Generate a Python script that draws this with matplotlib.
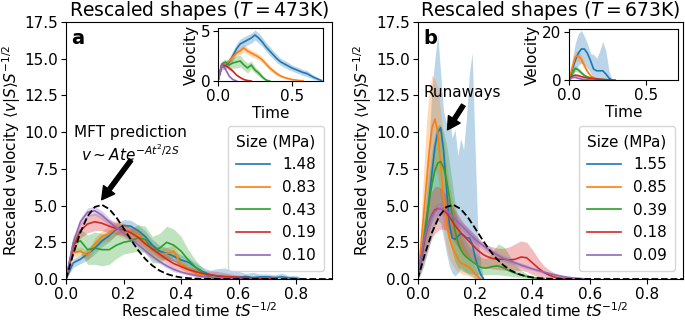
import matplotlib.pyplot as plt
import numpy as np

colors = ['tab:blue', 'tab:orange', 'tab:green', 'tab:red', 'tab:purple']
sizes_473 = ['1.48', '0.83', '0.43', '0.19', '0.10']
sizes_673 = ['1.55', '0.85', '0.39', '0.18', '0.09']

# panel a, main axes (T = 473K)
a_t = [0.0, 0.025, 0.05, 0.075, 0.1, 0.125, 0.15, 0.175, 0.2, 0.225, 0.25, 0.275, 0.3, 0.325, 0.35,
       0.375, 0.4, 0.425, 0.45, 0.475, 0.5, 0.525, 0.55, 0.575, 0.6, 0.625, 0.65, 0.675, 0.7, 0.725,
       0.75, 0.775, 0.8, 0.825]
a_v = [
    [0, 1.1, 1.35, 1.7, 2.1, 2.6, 2.95, 3.4, 3.65, 3.6, 3.3, 2.9, 2.3, 1.9, 1.75, 1.55, 1.3, 1.15, 0.8,
     0.5, 0.3, 0.2, 0.15, 0.12, 0.12, 0.18, 0.1, 0.15, 0.15, 0.1, 0.15, 0.08, 0.05, 0],
    [0, 1.8, 1.9, 1.6, 2.4, 2.9, 3.1, 3.5, 3.3, 3.1, 3.0, 2.6, 2.0, 1.7, 1.75, 1.9, 1.0, 0.7, 0.4, 0.25,
     0.12, 0.06, 0.03, 0],
    [0, 2.4, 2.6, 2.0, 2.1, 2.0, 2.0, 2.3, 2.5, 2.6, 2.8, 2.7, 2.0, 2.1, 2.5, 2.3, 1.9, 1.3, 0.8, 0.45,
     0.15, 0.03, 0],
    [0, 2.2, 3.3, 3.75, 3.9, 3.8, 3.6, 3.45, 3.35, 3.15, 2.85, 2.4, 2.05, 1.7, 1.35, 1.05, 0.85, 0.65,
     0.5, 0.38, 0.3, 0.22, 0.18, 0.15, 0.12, 0.1, 0.07, 0.05, 0.03, 0],
    [0, 2.5, 3.9, 4.55, 4.65, 4.35, 3.9, 3.5, 3.15, 2.75, 2.35, 1.95, 1.55, 1.2, 0.9, 0.65, 0.48, 0.35,
     0.25, 0.17, 0.12, 0.08, 0.05, 0.03, 0.01, 0],
]
a_err = [
    [0, 0.3, 0.3, 0.4, 0.4, 0.4, 0.4, 0.4, 0.4, 0.4, 0.4, 0.4, 0.4, 0.4, 0.4, 0.35, 0.35, 0.3, 0.3, 0.3,
     0.3, 0.5, 0.6, 0.5, 0.4, 0.2, 0.35, 0.2, 0.2, 0.2, 0.25, 0.15, 0.2, 0],
    [0, 0.3, 0.3, 0.3, 0.4, 0.4, 0.5, 0.5, 0.5, 0.5, 0.5, 0.45, 0.45, 0.4, 0.4, 0.4, 0.35, 0.3, 0.2,
     0.15, 0.1, 0.05, 0.03, 0],
    [0, 0.6, 0.8, 1.0, 1.1, 1.1, 1.0, 0.9, 0.8, 0.8, 0.9, 0.9, 0.9, 1.0, 1.1, 1.1, 1.0, 0.7, 0.5, 0.3,
     0.1, 0.03, 0],
    [0, 0.4, 0.5, 0.6, 0.6, 0.5, 0.45, 0.4, 0.4, 0.4, 0.35, 0.3, 0.3, 0.3, 0.3, 0.3, 0.25, 0.2, 0.2,
     0.2, 0.25, 0.3, 0.25, 0.2, 0.15, 0.1, 0.08, 0.05, 0.03, 0],
    [0, 0.2, 0.25, 0.3, 0.3, 0.3, 0.25, 0.2, 0.2, 0.2, 0.2, 0.2, 0.2, 0.15, 0.15, 0.15, 0.1, 0.1, 0.1,
     0.08, 0.06, 0.05, 0.03, 0.02, 0.01, 0],
]

# panel a, inset (raw shapes)
ai_t = [0.0, 0.025, 0.05, 0.075, 0.1, 0.125, 0.15, 0.175, 0.2, 0.225, 0.25, 0.275, 0.3, 0.325, 0.35,
        0.375, 0.4, 0.425, 0.45, 0.475, 0.5, 0.525, 0.55, 0.575, 0.6, 0.625, 0.65, 0.675, 0.7]
ai_v = [
    [0, 1.4, 1.5, 1.9, 2.5, 3.2, 3.7, 3.9, 4.1, 4.3, 4.6, 4.3, 3.9, 3.4, 3.0, 2.6, 2.2, 1.9, 1.7, 1.5,
     1.3, 1.15, 1.0, 0.85, 0.75, 0.55, 0.35, 0.2, 0.05],
    [0, 1.5, 1.7, 2.0, 2.4, 2.8, 3.0, 3.3, 3.0, 2.8, 2.6, 2.4, 2.1, 1.7, 1.3, 1.0, 0.7, 0.5, 0.35, 0.25,
     0.15, 0.1, 0.05, 0],
    [0, 1.7, 1.9, 1.6, 1.8, 1.9, 2.0, 1.6, 1.3, 1.6, 1.1, 0.8, 0.4, 0.1, 0],
    [0, 1.6, 1.55, 1.3, 1.0, 0.6, 0.35, 0.15, 0.05, 0],
    [0, 1.6, 1.2, 0.5, 0.15, 0],
]
ai_err = [
    [0, 0.3, 0.3, 0.4, 0.5, 0.5, 0.5, 0.5, 0.5, 0.5, 0.5, 0.5, 0.45, 0.45, 0.45, 0.4, 0.4, 0.35, 0.35,
     0.35, 0.3, 0.3, 0.3, 0.3, 0.3, 0.25, 0.2, 0.15, 0.05],
    [0, 0.2, 0.25, 0.3, 0.3, 0.3, 0.35, 0.35, 0.35, 0.3, 0.3, 0.3, 0.3, 0.25, 0.25, 0.2, 0.2, 0.15, 0.1,
     0.1, 0.08, 0.05, 0.03, 0],
    [0, 0.3, 0.3, 0.4, 0.5, 0.6, 0.6, 0.5, 0.5, 0.4, 0.3, 0.3, 0.2, 0.1, 0],
    [0, 0.2, 0.2, 0.2, 0.15, 0.1, 0.1, 0.05, 0.02, 0],
    [0, 0.15, 0.15, 0.1, 0.05, 0],
]

# panel b, main axes (T = 673K)
b_t = [0.0, 0.01, 0.02, 0.03, 0.04, 0.05, 0.06, 0.07, 0.08, 0.09, 0.1, 0.11, 0.12, 0.13, 0.14, 0.15,
       0.16, 0.17, 0.18, 0.19, 0.2, 0.21, 0.22, 0.23, 0.24, 0.26, 0.28, 0.3, 0.32, 0.34, 0.36, 0.38,
       0.4, 0.42, 0.44, 0.46, 0.48, 0.5, 0.52, 0.54, 0.56, 0.58, 0.6]
b_v = [
    [0, 1.0, 2.2, 3.8, 5.5, 7.3, 9.0, 10.0, 10.3, 8.8, 6.3, 3.8, 2.8, 2.7, 2.9, 3.1, 3.0, 2.8, 2.8, 2.4,
     1.5, 0.8, 0.3, 0],
    [0, 2.0, 4.2, 6.5, 8.7, 10.3, 10.9, 10.0, 7.8, 5.5, 3.8, 2.8, 2.2, 1.8, 1.4, 1.1, 1.0, 0.9, 0.8,
     0.6, 0.35, 0.15, 0],
    [0, 1.2, 2.5, 3.9, 5.3, 6.5, 7.4, 7.9, 8.0, 7.6, 6.8, 5.6, 4.4, 3.3, 2.5, 2.0, 1.7, 1.5, 1.35, 1.2,
     1.05, 0.9, 0.8, 0.75, 0.75, 0.85, 0.9, 0.75, 0.55, 0.4, 0.28, 0.18, 0.1, 0.04, 0],
    [0, 1.2, 2.3, 3.2, 3.9, 4.4, 4.7, 4.8, 4.8, 4.7, 4.5, 4.25, 3.95, 3.65, 3.4, 3.15, 2.95, 2.75, 2.55,
     2.35, 2.15, 1.95, 1.8, 1.65, 1.55, 1.4, 1.35, 1.35, 1.3, 1.35, 1.5, 1.45, 1.1, 0.75, 0.45, 0.25,
     0.12, 0.05, 0.02, 0],
    [0, 1.3, 2.5, 3.3, 3.9, 4.3, 4.6, 4.75, 4.8, 4.75, 4.65, 4.5, 4.3, 4.1, 3.9, 3.7, 3.5, 3.3, 3.1, 2.9,
     2.7, 2.55, 2.4, 2.25, 2.1, 1.85, 1.6, 1.4, 1.25, 1.1, 0.95, 0.82, 0.7, 0.58, 0.47, 0.37, 0.28, 0.2,
     0.13, 0.08, 0.05, 0.02, 0],
]
b_lo = [
    [0, 0.3, 0.8, 1.5, 2.2, 3.0, 3.6, 4.0, 3.8, 2.8, 1.8, 0.9, 0.4, 0.2, 0.4, 0.8, 0.6, 0.4, 0.3, 0.2,
     0, 0, 0, 0],
    [0, 0.8, 2.0, 3.5, 5.0, 6.5, 7.5, 7.0, 5.5, 3.5, 2.2, 1.4, 1.0, 0.7, 0.5, 0.4, 0.3, 0.3, 0.2, 0.1,
     0, 0, 0],
    [0, 0.6, 1.4, 2.3, 3.2, 4.0, 4.6, 5.0, 5.0, 4.5, 3.8, 2.8, 1.9, 1.2, 0.8, 0.6, 0.5, 0.45, 0.4, 0.35,
     0.3, 0.3, 0.3, 0.3, 0.3, 0.3, 0.3, 0.25, 0.2, 0.15, 0.1, 0.05, 0, 0, 0],
    [0, 0.4, 1.0, 1.7, 2.3, 2.8, 3.1, 3.3, 3.4, 3.4, 3.3, 3.1, 2.8, 2.5, 2.2, 2.0, 1.8, 1.6, 1.45, 1.3,
     1.15, 1.0, 0.9, 0.8, 0.75, 0.7, 0.65, 0.6, 0.6, 0.6, 0.6, 0.5, 0.3, 0.15, 0.05, 0, 0, 0, 0, 0],
    [0, 1.0, 2.15, 2.9, 3.5, 3.9, 4.2, 4.35, 4.4, 4.35, 4.25, 4.15, 3.95, 3.75, 3.6, 3.4, 3.2, 3.0, 2.8,
     2.6, 2.4, 2.3, 2.15, 2.0, 1.85, 1.65, 1.4, 1.2, 1.05, 0.95, 0.8, 0.67, 0.6, 0.48, 0.37, 0.29, 0.22,
     0.15, 0.09, 0.05, 0.03, 0.01, 0],
]
b_hi = [
    [0, 2.0, 4.0, 7.0, 9.5, 13.0, 15.0, 16.7, 14.0, 11.5, 10.6, 11.2, 9.6, 10.2, 8.4, 9.6, 8.8, 11.0,
     14.0, 15.4, 9.0, 3.0, 1.0, 0],
    [0, 3.5, 7.0, 10.5, 12.8, 13.9, 13.6, 13.0, 11.5, 9.5, 7.8, 6.5, 5.5, 4.5, 3.6, 2.9, 2.4, 2.0, 1.6,
     1.2, 0.8, 0.4, 0],
    [0, 1.8, 3.6, 5.5, 7.3, 8.8, 9.9, 10.5, 10.5, 10.0, 9.2, 8.0, 6.6, 5.2, 4.0, 3.3, 2.8, 2.5, 2.2,
     2.0, 1.8, 1.6, 1.5, 1.4, 1.4, 1.8, 2.4, 2.2, 1.6, 1.0, 0.6, 0.35, 0.2, 0.08, 0],
    [0, 2.0, 3.6, 4.7, 5.5, 6.0, 6.3, 6.3, 6.2, 6.0, 5.7, 5.4, 5.0, 4.7, 4.4, 4.1, 3.8, 3.6, 3.4, 3.2,
     3.0, 2.8, 2.6, 2.5, 2.3, 2.2, 2.1, 2.1, 2.2, 2.4, 2.6, 2.5, 2.0, 1.4, 0.9, 0.6, 0.4, 0.25, 0.12, 0],
    [0, 1.6, 2.85, 3.7, 4.3, 4.7, 5.0, 5.15, 5.2, 5.15, 5.05, 4.85, 4.65, 4.45, 4.2, 4.0, 3.8, 3.6, 3.4,
     3.2, 3.0, 2.8, 2.65, 2.5, 2.35, 2.05, 1.8, 1.6, 1.45, 1.25, 1.1, 0.97, 0.8, 0.68, 0.57, 0.45, 0.34,
     0.25, 0.17, 0.11, 0.07, 0.03, 0],
]

# panel b, inset
bi_t = [0.0, 0.02, 0.04, 0.06, 0.08, 0.1, 0.12, 0.14, 0.16, 0.18, 0.2, 0.22, 0.24, 0.26, 0.28, 0.3]
bi_v = [
    [0, 4, 8, 11, 12.8, 12.8, 11, 8, 4.5, 3.8, 3.8, 3.8, 2.5, 0.8, 0],
    [0, 5, 9.5, 10, 8.5, 6, 3.5, 1.8, 1.0, 0.6, 0.3, 0.1, 0],
    [0, 2.5, 4.8, 4.2, 3.0, 1.9, 1.3, 0.9, 0.6, 0.45, 0.3, 0.2, 0.12, 0.06, 0],
    [0, 1.6, 2.0, 1.8, 1.4, 1.1, 0.85, 0.65, 0.5, 0.4, 0.3, 0.2, 0.12, 0.06, 0.02, 0],
    [0, 1.0, 1.1, 0.7, 0.4, 0.2, 0.1, 0.03, 0],
]
bi_err = [
    None,
    [0, 1.2, 2, 2.2, 1.8, 1.4, 0.9, 0.5, 0.3, 0.2, 0.1, 0.05, 0],
    [0, 0.6, 1.2, 1.0, 0.8, 0.5, 0.4, 0.3, 0.3, 0.3, 0.3, 0.2, 0.1, 0.05, 0],
    [0, 0.4, 0.5, 0.5, 0.4, 0.3, 0.3, 0.2, 0.2, 0.15, 0.1, 0.1, 0.05, 0.03, 0.01, 0],
    [0, 0.2, 0.2, 0.15, 0.1, 0.05, 0.03, 0.01, 0],
]
bi_blue_lo = [0, 1.5, 4, 6, 7, 6.5, 5, 3, 1, 0.5, 0.5, 0.5, 0.3, 0, 0]
bi_blue_hi = [0, 8, 15, 19, 20.5, 18, 15, 11, 10.5, 9, 12, 15.9, 12, 4, 0]

# MFT prediction (dashed)
mft_t = [0, 0.025, 0.05, 0.075, 0.1, 0.125, 0.15, 0.175, 0.2, 0.225, 0.25, 0.275, 0.3, 0.325, 0.35,
         0.375, 0.4, 0.425, 0.45, 0.475, 0.5, 0.55, 0.6, 0.7, 0.8, 0.925]
mft_v = [0, 1.70, 3.18, 4.28, 4.91, 5.05, 4.77, 4.20, 3.46, 2.70, 1.98, 1.38, 0.92, 0.58, 0.35, 0.20,
         0.11, 0.06, 0.03, 0.013, 0.006, 0.001, 0, 0, 0, 0]

FS = 11
plt.rcParams['xtick.major.pad'] = 2
plt.rcParams['ytick.major.pad'] = 2
plt.rcParams['axes.labelpad'] = 1.5


def draw_series(ax, t, v, lo, hi, color, label=None):
    n = len(v)
    ax.fill_between(t[:n], lo, hi, color=color, alpha=0.3, lw=0)
    ax.plot(t[:n], v, color=color, lw=1.2, label=label)


def err_band(v, e):
    v = np.array(v)
    e = np.array(e)
    return np.clip(v - e, 0, None), v + e


fig = plt.figure(figsize=(6.85, 3.2), dpi=100)
ax_a = fig.add_axes([0.0964, 0.128, 0.3883, 0.803])
ax_b = fig.add_axes([0.6098, 0.128, 0.3873, 0.803])
in_a = fig.add_axes([0.3182, 0.7469, 0.1533, 0.1656])
in_b = fig.add_axes([0.8307, 0.75, 0.1591, 0.159])

# main panel a
for i in range(5):
    lo, hi = err_band(a_v[i], a_err[i])
    draw_series(ax_a, a_t, a_v[i], lo, hi, colors[i], sizes_473[i])
ax_a.plot(mft_t, mft_v, 'k--', lw=1.3)

# main panel b
for i in range(5):
    draw_series(ax_b, b_t, b_v[i], b_lo[i], b_hi[i], colors[i], sizes_673[i])
ax_b.plot(mft_t, mft_v, 'k--', lw=1.3)

for ax, temp, letter in [(ax_a, 473, 'a'), (ax_b, 673, 'b')]:
    ax.set_xlim(0, 0.925)
    ax.set_ylim(0, 17.5)
    ax.set_title(f'Rescaled shapes ($T = {temp}$K)', fontsize=13.5, pad=2.5)
    ax.set_xlabel('Rescaled time $tS^{-1/2}$', fontsize=FS, labelpad=0)
    ax.set_ylabel(r'Rescaled velocity $\langle v|S\rangle S^{-1/2}$', fontsize=FS)
    ax.tick_params(labelsize=FS)
    ax.text(0.02, 0.975, letter, transform=ax.transAxes, fontsize=14, fontweight='bold', va='top')
    ax.legend(title='Size (MPa)', loc='lower right', fontsize=FS, title_fontsize=FS,
              borderpad=0.55, handlelength=2.2)

# arrows + annotations
arrow = dict(facecolor='black', edgecolor='black', width=3, headwidth=10, headlength=9, shrink=0)
ax_a.annotate('', xy=(0.124, 5.4), xytext=(0.226, 8.1), arrowprops=arrow)
ax_a.text(0.225, 10.5, 'MFT prediction\n$v\\sim Ate^{-At^2/2S}$', ha='center', va='top', fontsize=FS)
ax_b.annotate('', xy=(0.104, 10.16), xytext=(0.159, 11.84), arrowprops=arrow)
ax_b.text(0.157, 12.38, 'Runaways', ha='center', va='baseline', fontsize=FS)

# insets
for i in range(5):
    lo, hi = err_band(ai_v[i], ai_err[i])
    draw_series(in_a, ai_t, ai_v[i], lo, hi, colors[i])
for i in range(5):
    if bi_err[i] is None:
        lo, hi = bi_blue_lo, bi_blue_hi
    else:
        lo, hi = err_band(bi_v[i], bi_err[i])
    draw_series(in_b, bi_t, bi_v[i], lo, hi, colors[i])

in_a.set_ylim(0, 5.3)
in_a.set_yticks([0, 5])
in_b.set_ylim(0, 21)
in_b.set_yticks([0, 20])
for ax in (in_a, in_b):
    ax.set_xlim(0, 0.71)
    ax.set_xticks([0.0, 0.5])
    ax.set_xlabel('Time', fontsize=FS)
    ax.set_ylabel('Velocity', fontsize=FS)
    ax.tick_params(labelsize=FS)

plt.savefig('out.png', dpi=100)
